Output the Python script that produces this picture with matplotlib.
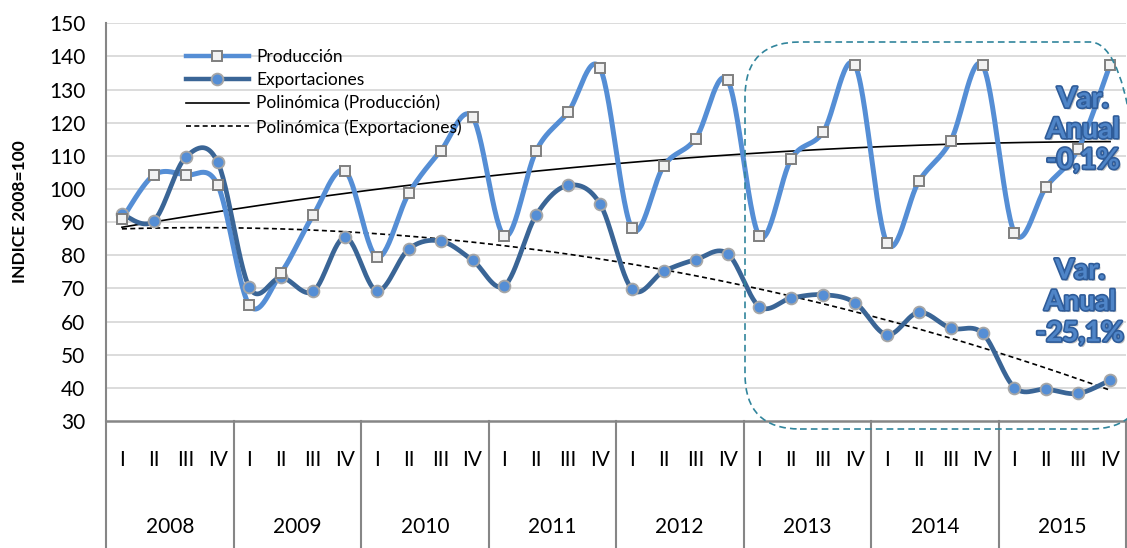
import numpy as np
import matplotlib
matplotlib.use("Agg")
import matplotlib.pyplot as plt
from matplotlib.lines import Line2D
from matplotlib.patches import FancyBboxPatch
from matplotlib.transforms import IdentityTransform, blended_transform_factory
import matplotlib.patheffects as pe

years = ["2008", "2009", "2010", "2011", "2012", "2013", "2014", "2015"]
quarters = ["I", "II", "III", "IV"]

produccion = [90.9, 104.2, 104.2, 101.3,
              64.9, 74.8, 92.1, 105.4,
              79.5, 98.7, 111.5, 121.7,
              85.8, 111.6, 123.2, 136.4,
              88.1, 107.0, 115.2, 132.8,
              85.8, 109.1, 117.2, 137.3,
              83.7, 102.3, 114.5, 137.3,
              86.8, 100.7, 112.1, 137.5]

exportaciones = [92.4, 90.4, 109.6, 108.2,
                 70.3, 73.3, 69.1, 85.4,
                 69.3, 81.9, 84.3, 78.5,
                 70.8, 92.2, 101.1, 95.5,
                 69.8, 75.2, 78.7, 80.5,
                 64.5, 67.1, 68.1, 65.7,
                 56.0, 62.8, 58.0, 56.5,
                 40.1, 39.6, 38.3, 42.3]

legend_labels = ["Producción", "Exportaciones",
                 "Polinómica (Producción)", "Polinómica (Exportaciones)"]
var_prod = "Var.\nAnual\n-0,1%"
var_exp = "Var.\nAnual\n-25,1%"
ylabel = "INDICE 2008=100"

FONT = ["Lato", "DejaVu Sans"]
plt.rcParams['font.family'] = FONT

W, H = 1127, 548
fig = plt.figure(figsize=(W / 100, H / 100), dpi=100)
ax_left, ax_right, ax_top, ax_bot = 106, 1126, 23.3, 421
ax = fig.add_axes([ax_left / W, 1 - ax_bot / H, (ax_right - ax_left) / W, (ax_bot - ax_top) / H])

n = len(produccion)
x = np.arange(n)


def smooth(xs, ys, steps=30):
    xs = np.asarray(xs, float)
    ys = np.asarray(ys, float)
    P = np.column_stack([xs, ys])
    P = np.vstack([P[0], P, P[-1]])
    out = []
    for i in range(1, len(P) - 2):
        p0, p1, p2, p3 = P[i - 1], P[i], P[i + 1], P[i + 2]
        c1 = p1 + (p2 - p0) / 6.0
        c2 = p2 - (p3 - p1) / 6.0
        t = np.linspace(0, 1, steps)[:, None]
        seg = ((1 - t) ** 3) * p1 + 3 * ((1 - t) ** 2) * t * c1 + 3 * (1 - t) * t ** 2 * c2 + t ** 3 * p2
        out.append(seg if i == 1 else seg[1:])
    s = np.vstack(out)
    return s[:, 0], s[:, 1]


c_prod = "#558ED5"
c_exp = "#3A6596"

# gridlines
for v in range(40, 151, 10):
    ax.axhline(v, color="#D9D9D9", lw=1.3, zorder=0)

# trend lines (quadratic fit like Excel polynomial trend)
xx = np.linspace(0, n - 1, 200)
pp = np.polyfit(x + 1, produccion, 2)
pe_ = np.polyfit(x + 1, exportaciones, 2)
ax.plot(xx, np.polyval(pp, xx + 1), color="black", lw=1.2, zorder=2)
ax.plot(xx, np.polyval(pe_, xx + 1), color="black", lw=1.2, ls=(0, (3, 2)), zorder=2)

sx, sy = smooth(x, produccion)
ax.plot(sx, sy, color=c_prod, lw=3.6, zorder=3, solid_capstyle="round")
ax.plot(x, produccion, ls="none", marker="s", ms=7, mfc="#F2F2F2", mec="#7F7F7F", mew=1.4, zorder=5)

sx, sy = smooth(x, exportaciones)
ax.plot(sx, sy, color=c_exp, lw=3.4, zorder=3, solid_capstyle="round")
ax.plot(x, exportaciones, ls="none", marker="o", ms=8.5, mfc=c_prod, mec="#A6A6A6", mew=1.3, zorder=4)

ax.set_xlim(-0.5, n - 0.5)
ax.set_ylim(30, 150)
ax.set_yticks(range(30, 151, 10))
ax.tick_params(axis="y", length=0, pad=15, labelsize=15)
ax.set_xticks([])
for s in ["top", "right", "bottom"]:
    ax.spines[s].set_visible(False)
ax.spines["left"].set_color("#868686")
ax.spines["left"].set_linewidth(1.5)
ax.axhline(30, color="#868686", lw=1.8, zorder=6, clip_on=False)

# category axis
tr = blended_transform_factory(ax.transData, ax.transAxes)
axh = ax_bot - ax_top
ybot = -(H - ax_bot) / axh
for k in range(len(years) + 1):
    xb = k * 4 - 0.5
    ax.plot([xb, xb], [0, ybot], transform=tr, color="#868686", lw=1.5, clip_on=False)
for i in range(n):
    ax.text(i, -(460 - ax_bot) / axh, quarters[i % 4], transform=tr, ha="center", va="center", fontsize=15)
for k, yname in enumerate(years):
    ax.text(k * 4 + 1.5, -(527 - ax_bot) / axh, yname, transform=tr, ha="center", va="center", fontsize=15)

fig.text(20 / W, 1 - 212 / H, ylabel, rotation=90, ha="center", va="center", fontsize=12.5, fontweight="bold")

# legend
handles = [
    Line2D([], [], color=c_prod, lw=3.2, marker="s", ms=7, mfc="#F2F2F2", mec="#7F7F7F", mew=1.4),
    Line2D([], [], color=c_exp, lw=3.2, marker="o", ms=8.5, mfc=c_prod, mec="#A6A6A6", mew=1.3),
    Line2D([], [], color="black", lw=1.2),
    Line2D([], [], color="black", lw=1.2, ls=(0, (3, 2))),
]
leg = fig.legend(handles, legend_labels, loc="upper left", bbox_to_anchor=(186 / W, 1 - 49 / H),
                 frameon=False, fontsize=12.5, handlelength=3.6, handletextpad=0.45,
                 labelspacing=0.42, borderpad=0, borderaxespad=0)

# annotation box
box = FancyBboxPatch((745, H - 429), 1145 - 745, 429 - 42,
                     boxstyle="round,pad=0,rounding_size=55", transform=IdentityTransform(),
                     fill=False, edgecolor="#31859C", lw=1.2, ls=(0, (4, 2.5)), zorder=10)
fig.add_artist(box)

effects = [pe.withSimplePatchShadow(offset=(1.5, -1.5), shadow_rgbFace="#7F7F7F", alpha=0.5),
           pe.Stroke(linewidth=2.4, foreground="#2F5C99"), pe.Normal()]
fig.text(1083 / W, 1 - 130 / H, var_prod, ha="center", va="center", fontsize=20.5, fontweight="bold",
         color="#4F85C8", linespacing=1.22, path_effects=effects, zorder=11)
fig.text(1080 / W, 1 - 302 / H, var_exp, ha="center", va="center", fontsize=20, fontweight="bold",
         color="#4F85C8", linespacing=1.25, path_effects=effects, zorder=11)

fig.savefig("out.png", dpi=100)
